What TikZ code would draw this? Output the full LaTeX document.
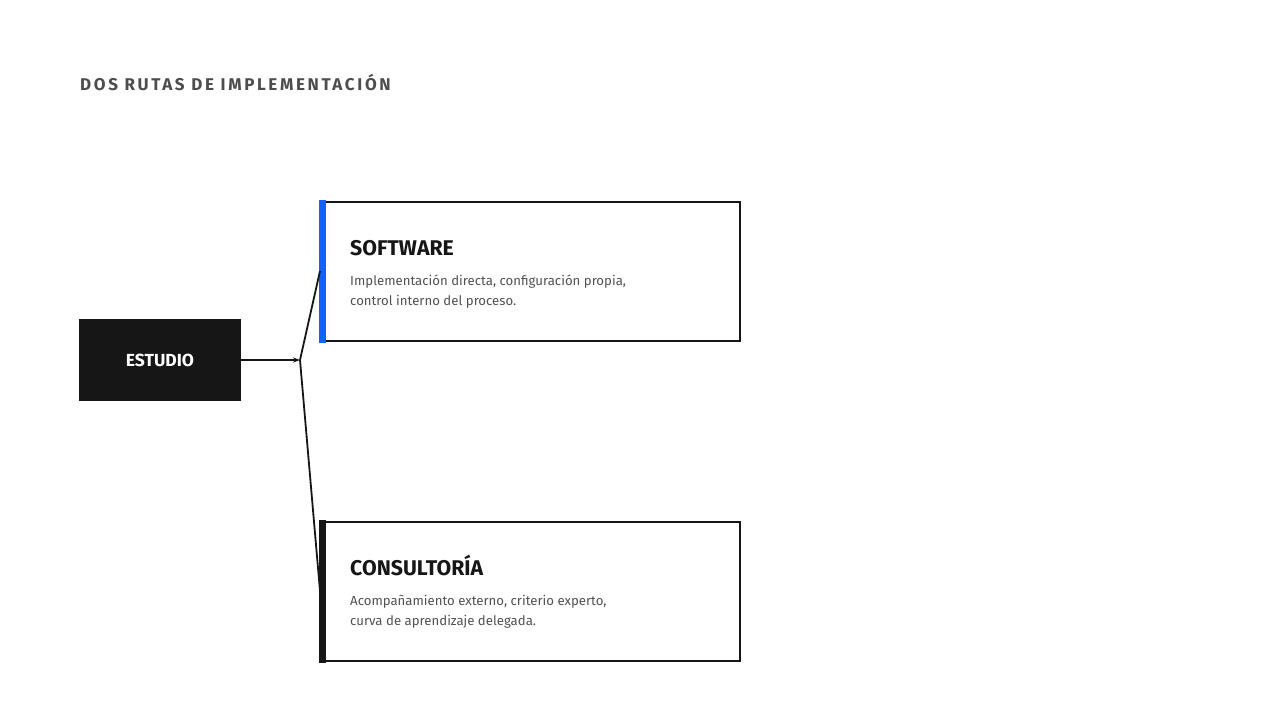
\documentclass[tikz,border=0pt]{standalone}
\usepackage{fontspec}
\setmainfont{Fira Sans}
\newfontfamily\titlefont[LetterSpace=15.5]{Fira Sans}
\usetikzlibrary{positioning, arrows.meta, calc}
\definecolor{inkdark}{HTML}{161616}
\definecolor{accentblue}{HTML}{0F62FE}
\definecolor{bodygray}{HTML}{525252}
\definecolor{titlegray}{HTML}{4D4D4D}

\begin{document}
\begin{tikzpicture}[x=1pt, y=-1pt,
    routebox/.style={draw=inkdark, line width=2pt, minimum width=419pt, minimum height=139pt, anchor=north west, inner sep=0pt},
    routehead/.style={anchor=base west, inner sep=0pt, font=\fontsize{21.3}{24}\selectfont\bfseries, text=inkdark},
    routetext/.style={anchor=base west, inner sep=0pt, align=left, font=\fontsize{13.2}{20}\selectfont, text=bodygray},
    link/.style={line width=1.8pt, draw=inkdark}]
    \useasboundingbox (0,0) rectangle (1280,720);

    % Title
    \node[anchor=base west, inner sep=0pt, text=titlegray, font=\titlefont\fontsize{17}{20}\selectfont\bfseries] (title) at (80,90) {DOS RUTAS DE IMPLEMENTACIÓN};

    % Start node
    \node[fill=inkdark, minimum width=162pt, minimum height=82pt, inner sep=0pt, text=white, font=\fontsize{17.5}{20}\selectfont\bfseries] (estudio) at (160,360) {ESTUDIO};

    % The two routes
    \node[routebox] (software) at (320,200.5) {};
    \fill[accentblue] ($(software.north west)+(-1,-1)$) rectangle ($(software.south west)+(6,1)$);
    \node[routehead] (softhead) at (350,255) {SOFTWARE};
    \node[routetext] (softtext) at (350,305) {Implementación directa, configuración propia,\\control interno del proceso.};

    \node[routebox] (consult) at (320,520.5) {};
    \fill[inkdark] ($(consult.north west)+(-1,-1)$) rectangle ($(consult.south west)+(6,1)$);
    \node[routehead] (consulthead) at (350,575) {CONSULTORÍA};
    \node[routetext] (consulttext) at (350,625) {Acompañamiento externo, criterio experto,\\curva de aprendizaje delegada.};

    % Connectors
    \coordinate (split) at (300,360);
    \draw[link, -{Stealth[length=7pt, width=5pt]}] (estudio.east) -- (split);
    \draw[link] (split) -- (software.west);
    \draw[link] (split) -- (consult.west);
\end{tikzpicture}
\end{document}
